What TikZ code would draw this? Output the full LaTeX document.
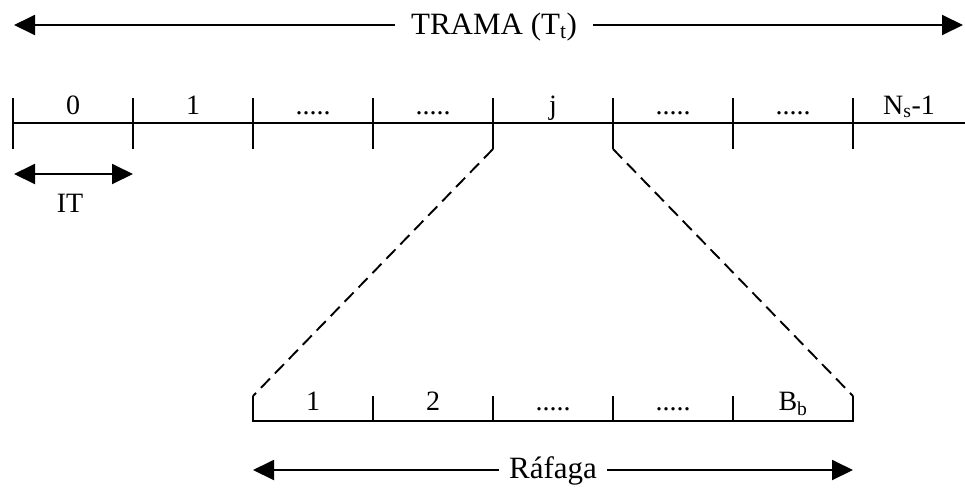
\documentclass[tikz,border=0pt]{standalone}
\usepackage{fontspec}
\setmainfont{Liberation Serif}
\usetikzlibrary{arrows.meta}
\newcommand{\mydots}{.....}
\tikzset{
  lbl/.style={anchor=base,inner sep=0pt,font=\fontsize{28}{30}\selectfont},
  bigtxt/.style={inner xsep=16pt,inner ysep=4pt,font=\fontsize{31}{33}\selectfont,fill=white},
  lw/.style={line width=1.9pt},
  arr/.style={lw,{Triangle[length=21pt,width=20pt]}-{Triangle[length=21pt,width=20pt]}},
  dsh/.style={lw,dash pattern=on 13pt off 7pt},
}
\begin{document}
\begin{tikzpicture}[x=1pt,y=-1pt]
\useasboundingbox (0,0) rectangle (965,493);
% top arrow TRAMA
\coordinate (tl) at (14,25);
\coordinate (tr) at (963,25);
\draw[arr] (tl) -- (tr);
\node[bigtxt] (trama) at (494,27) {TRAMA (T\textsubscript{t})};
% timeline
\coordinate (a0) at (13,123);
\coordinate (aend) at (965,123);
\draw[lw] (a0) -- (aend);
\foreach \i in {0,1,2,3,4,5,6,7}{
  \draw[lw] (13+120*\i,98) -- (13+120*\i,149);
}
\node[lbl] (l0) at (73,114) {0};
\node[lbl] (l1) at (193,114) {1};
\node[lbl] (l2) at (313,114) {\mydots};
\node[lbl] (l3) at (433,114) {\mydots};
\node[lbl] (lj) at (553,114) {j};
\node[lbl] (l5) at (673,114) {\mydots};
\node[lbl] (l6) at (793,114) {\mydots};
\node[lbl] (ns) at (909,114) {N\textsubscript{s}-1};
% IT arrow
\coordinate (itl) at (14,174);
\coordinate (itr) at (133,174);
\draw[arr] (itl) -- (itr);
\node[lbl] (it) at (70,212) {IT};
% zoom dashed
\coordinate (j1) at (493,149);
\coordinate (j2) at (613,149);
\coordinate (b1) at (253,396);
\coordinate (b2) at (853,396);
\draw[dsh] (j1) -- (b1);
\draw[dsh] (j2) -- (b2);
% burst line
\coordinate (bl) at (253,421);
\coordinate (br) at (853,421);
\draw[lw] (b1) -- (bl) -- (br) -- (b2);
\foreach \i in {1,2,3,4}{
  \draw[lw] (253+120*\i,396) -- (253+120*\i,421);
}
\node[lbl] (m1) at (313,410) {1};
\node[lbl] (m2) at (433,410) {2};
\node[lbl] (m3) at (553,410) {\mydots};
\node[lbl] (m4) at (673,410) {\mydots};
\node[lbl] (bb) at (793,410) {B\textsubscript{b}};
% Rafaga arrow
\coordinate (rl) at (253,470);
\coordinate (rr) at (853,470);
\draw[arr] (rl) -- (rr);
\node[bigtxt,inner xsep=10pt] (raf) at (553,471) {Ráfaga};
\end{tikzpicture}
\end{document}
